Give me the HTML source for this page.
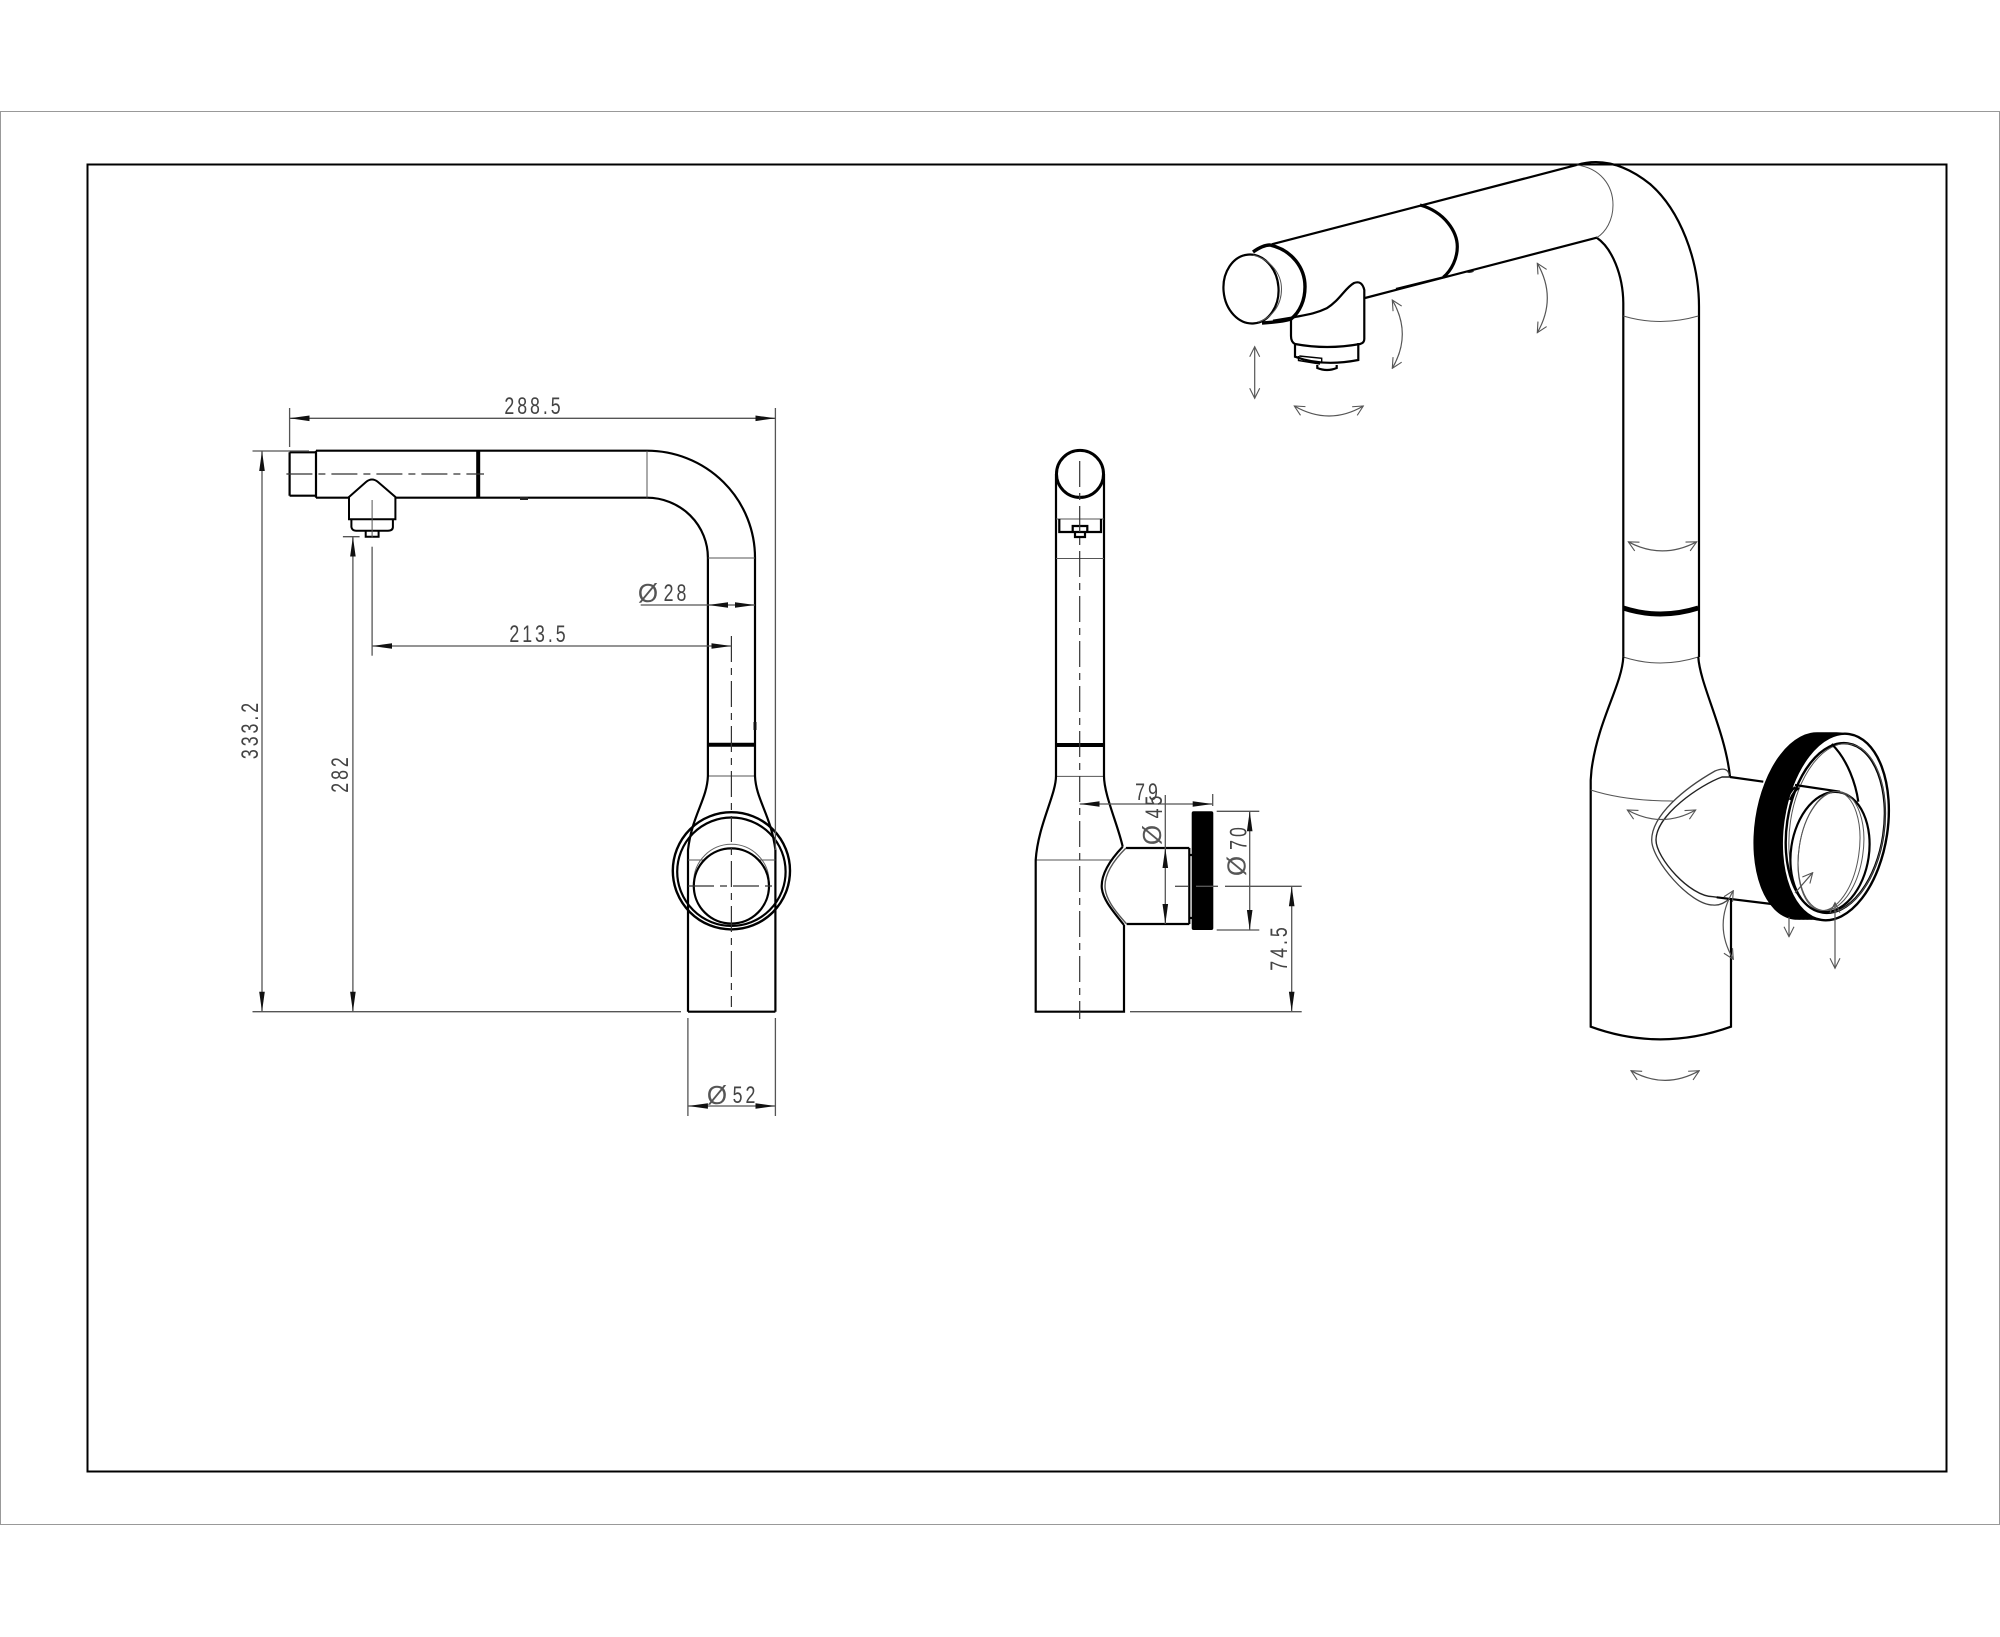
<!DOCTYPE html>
<html><head><meta charset="utf-8"><title>Faucet drawing</title>
<style>
html,body{margin:0;padding:0;background:#fff}
svg{display:block}
text{font-family:"Liberation Sans",sans-serif;font-size:24px;fill:#444;text-anchor:middle;letter-spacing:4px}
text.o{font-size:26px;letter-spacing:0;fill:#555}
.k{fill:none;stroke:#000;stroke-width:2.2}
.K{fill:none;stroke:#000;stroke-width:4}
.t{fill:none;stroke:#555;stroke-width:1}
.d{fill:none;stroke:#555;stroke-width:1.3}
.c{fill:none;stroke:#333;stroke-width:1.2;stroke-dasharray:26 6 7 6}
.a{fill:none;stroke:#555;stroke-width:1.2;marker-start:url(#o);marker-end:url(#o)}
.f{fill:none;stroke:#555;stroke-width:1.3;marker-start:url(#w);marker-end:url(#w)}
</style></head><body>
<svg width="2000" height="1637" viewBox="0 0 2000 1637" xmlns="http://www.w3.org/2000/svg">
<defs>
<marker id="w" viewBox="-20 -3 20 6" refX="0" refY="0" markerWidth="20" markerHeight="6" markerUnits="userSpaceOnUse" orient="auto-start-reverse"><path d="M0 0L-20 -2.8V2.8Z" fill="#111"/></marker>
<marker id="o" viewBox="-11 -6 12 12" refX="0" refY="0" markerWidth="12" markerHeight="12" markerUnits="userSpaceOnUse" orient="auto-start-reverse"><path d="M-10 -5L0 0L-10 5" fill="none" stroke="#555" stroke-width="1.1"/></marker>
</defs>
<rect width="2000" height="1637" fill="#fff"/>
<rect x="0.5" y="111.5" width="1999" height="1413" fill="none" stroke="#999" stroke-width="1"/>
<rect x="87.5" y="164.5" width="1859" height="1307" fill="none" stroke="#000" stroke-width="2"/>

<!-- FRONT VIEW -->
<path class="k" d="M316 450.7H647A108 107 0 0 1 755 558V745M316 497.7H647A61 60 0 0 1 707.9 558V745"/>
<path class="k" d="M316 450.7V497.7M289.6 452.3H316M289.6 495.7H316M289.6 452.3V495.7"/>
<path class="K" d="M478.2 450.7V497.7M707.9 744.7H755"/>
<path class="t" d="M647 450.7V497.7M707.9 558H755M707.9 776H755"/>
<path class="k" d="M707.9 745V776C707 800 692 815 688 850V1011.7M755 745V776C756 800 771 815 775.4 850"/>
<path class="k" d="M775.4 850V1011.7M688 1011.7H775.4"/>
<path d="M349 497L366 482Q372 477 378 482L395.4 497V519.3H349ZM351.4 519.3V527Q352 530.7 356 530.7H388Q392.9 530.7 392.9 527V519.3M365.7 530.7V536.7H378.6V530.7" fill="#fff" stroke="#000" stroke-width="2"/>
<path d="M520 498.5h8" stroke="#222" stroke-width="3"/>
<path d="M755 722v8" stroke="#111" stroke-width="3"/>
<path class="t" d="M688 860H775.4"/>
<circle cx="731.4" cy="870.8" r="58.6" fill="none" stroke="#000" stroke-width="2.4"/>
<circle cx="731.4" cy="871.7" r="54.2" fill="none" stroke="#000" stroke-width="2.2"/>
<circle cx="731.4" cy="882" r="37.7" fill="none" stroke="#666" stroke-width="1"/>
<circle cx="731.4" cy="886" r="37.6" fill="#fff" stroke="#000" stroke-width="2.2"/>
<path class="c" d="M731.4 636V1007"/>
<path class="c" d="M688 886H775"/>
<path class="c" d="M286.4 474H484"/>
<path class="t" d="M372.1 500V538"/>
<!-- dims front -->
<path class="d" d="M289.6 408V447M775.4 408V850"/>
<path class="f" d="M289.6 418.3H775.4"/>
<path class="d" d="M252.5 451H309M252.5 1011.7H681"/>
<path class="f" d="M262 451V1011.7"/>
<path class="d" d="M342.9 536.7H359.6"/>
<path class="f" d="M352.9 536.7V1011.7"/>
<path class="d" d="M372.1 546.7V655.7"/>
<path class="f" d="M372.1 646H731.4"/>
<path class="d" d="M640.7 605H708"/>
<path class="f" d="M708 605H755"/>
<path class="d" d="M687.9 1018V1116M775.4 1018V1116"/>
<path class="f" d="M687.9 1106H775.4"/>
<text transform="translate(534 414) scale(.74 1)">288.5</text>
<text transform="translate(539 642) scale(.74 1)">213.5</text>
<text class="o" x="648" y="602">Ø</text>
<text transform="translate(676.5 601) scale(.74 1)">28</text>
<text class="o" x="717" y="1104">Ø</text>
<text transform="translate(745.5 1103) scale(.74 1)">52</text>
<text transform="translate(258 729.5) rotate(-90) scale(.74 1)">333.2</text>
<text transform="translate(348 773.5) rotate(-90) scale(.74 1)">282</text>

<!-- SIDE VIEW -->
<path class="k" d="M1056 474V745M1104 474V745"/>
<path class="K" d="M1056 745H1104"/>
<circle cx="1080" cy="473.9" r="23.5" fill="#fff" stroke="#000" stroke-width="3"/>
<path class="t" d="M1056 519H1104M1056 558.5H1104M1056 776.4H1104M1035.7 860H1111"/>
<path class="k" d="M1059.3 519V532H1101V519M1072.7 526V532H1087.3V526ZM1075 532V537H1085V532"/>
<path class="k" d="M1056 745V776C1056 795 1038 825 1035.7 860V1011.7H1124V925M1104 745V776C1104 795 1118 825 1122.7 846.7"/>
<path class="k" d="M1122.7 846.7C1110 860 1101.7 873 1101.7 886C1101.7 898 1112 910 1124 925M1126 848H1189.3M1126.7 924H1189.3M1189.3 848V924"/>
<path class="t" d="M1126 848C1114 860 1105 873 1105 886C1105 898 1114 910 1126.7 924" style="stroke-width:1.4"/>
<path class="k" d="M1189.3 855H1192M1189.3 918H1192"/>
<rect x="1191.7" y="811.3" width="21.6" height="118.7" rx="2" fill="#000"/>
<path class="c" d="M1079.7 461V1019"/>
<path class="d" d="M1175 886.3H1188M1196 886.3H1218M1225 886.3H1301.7"/>
<path class="f" d="M1079.7 804H1212.7"/>
<path class="d" d="M1212.7 794V806"/>
<path class="d" d="M1165.3 795V849"/>
<path class="f" d="M1165.3 848V924"/>
<path class="d" d="M1216.7 811.3H1259.3M1216.7 930H1259.3"/>
<path class="f" d="M1249.7 811.3V930"/>
<path class="f" d="M1291.7 886.3V1011.7"/>
<path class="d" d="M1130 1011.7H1301.7"/>
<text transform="translate(1148 800) scale(.74 1)">79</text>
<text class="o" transform="translate(1161 835) rotate(-90)">Ø</text>
<text transform="translate(1162 805.5) rotate(-90) scale(.74 1)">45</text>
<text class="o" transform="translate(1245.7 866) rotate(-90)">Ø</text>
<text transform="translate(1246.7 837) rotate(-90) scale(.74 1)">70</text>
<text transform="translate(1287 947.5) rotate(-90) scale(.74 1)">74.5</text>

<!-- PERSPECTIVE VIEW -->
<path class="k" d="M1271.7 244.3L1576.7 165C1600 158 1625 164 1650 184C1680 210 1699 260 1699 306.7V657"/>
<path class="k" d="M1365 298L1596.7 237.7C1612 248 1623 275 1623.3 303V657"/>
<path class="t" d="M1576.7 165C1600 168 1613 185 1613 205C1613 220 1606 232 1596.7 237.7"/>
<path class="t" d="M1623.3 316Q1660 327 1698.3 316M1623.3 657Q1660 669 1698.3 657"/>
<path d="M1623.3 608Q1660 620 1698.3 608" fill="none" stroke="#000" stroke-width="5"/>
<path class="a" d="M1628.3 541.8Q1662 560 1696.7 541.8"/>
<path d="M1420 205C1445 212 1457.3 232 1457.3 246.7C1457.3 258 1452 270 1443.3 277.3" fill="none" stroke="#000" stroke-width="3.2"/>
<path d="M1443.3 277.3L1396 289" class="k"/>
<path d="M1465 272a5 2 0 0 0 9 -1z" fill="#111"/>
<!-- nozzle -->
<path class="k" d="M1291 318V336Q1291 342 1295 344Q1327 350 1360 344Q1364.3 343 1364.3 339V290Q1362 280 1354 283C1345 288 1340 300 1326.7 308.3C1315 314 1305 315 1293.3 317.3L1273 320.7"/>
<path class="k" d="M1295 344V356.7Q1322 367 1358.3 360V343M1317.3 365V368Q1327 372 1336.7 368V365"/>
<path d="M1299.3 356L1321.7 358.3V362M1298.5 356V360.5L1320 364" fill="none" stroke="#000" stroke-width="1.4"/>
<!-- end cap -->
<path d="M1253 252C1260 247 1265 245 1270 245C1292 250 1305 268 1305 286.7C1305 300 1300 312 1291 319C1285 321 1278 322 1262 323" fill="none" stroke="#000" stroke-width="3.4"/>
<ellipse cx="1251" cy="289" rx="27.5" ry="34.5" transform="rotate(-5 1251 289)" fill="#fff" stroke="#000" stroke-width="2.2"/>
<path class="t" d="M1253 255C1272 260 1281.5 275 1281.5 289C1281.5 305 1272 318 1258 322"/>
<path class="a" d="M1254.7 346.7V398.3"/>
<path class="a" d="M1294.3 406Q1329.3 426 1363.3 406"/>
<path class="a" d="M1392.3 300Q1412.3 334 1392.3 368.3"/>
<path class="a" d="M1537.3 263.3Q1557.3 298 1537.3 332.7"/>
<!-- lower body -->
<path class="k" d="M1623.3 657C1622 685 1598 720 1591.5 770L1590.7 780V1026.7Q1660 1052 1731 1026.7V898M1698.3 657C1700 685 1725 730 1730 776.7"/>
<path class="t" d="M1590.7 790Q1625 801 1673 801"/>
<path d="M1729.3 775C1728 768 1722 768 1715 771C1685 788 1651.7 815 1651.7 840C1651.7 860 1690 905 1713 905Q1722 906 1730 898" fill="none" stroke="#444" stroke-width="1.3"/>
<path d="M1730 777H1722C1700 785 1656 815 1656 840C1656 858 1690 896.7 1713 896.7L1730 899" fill="none" stroke="#222" stroke-width="1.4"/>
<path class="k" d="M1730 777L1763.3 781.7M1716.7 897.3L1771.7 904"/>
<path class="a" d="M1627.3 810Q1661.7 829 1695.7 810"/>
<path class="a" d="M1631 1070.7Q1665 1090 1699.3 1070.7"/>
<path class="a" d="M1733.3 890.7Q1713 925 1733.3 959.3"/>
<!-- ring -->
<g fill="#000">
<ellipse cx="1807" cy="826" rx="52.3" ry="94.5" transform="rotate(8.5 1807 826)"/>
<ellipse cx="1811" cy="826" rx="52.3" ry="94.5" transform="rotate(8.5 1811 826)"/>
<ellipse cx="1815" cy="826" rx="52.3" ry="94.5" transform="rotate(8.5 1815 826)"/>
<ellipse cx="1819" cy="826" rx="52.3" ry="94.5" transform="rotate(8.5 1819 826)"/>
<ellipse cx="1823" cy="826" rx="52.3" ry="94.5" transform="rotate(8.5 1823 826)"/>
<ellipse cx="1827" cy="826" rx="52.3" ry="94.5" transform="rotate(8.5 1827 826)"/>
<ellipse cx="1831" cy="827" rx="52.3" ry="94.5" transform="rotate(8.5 1831 827)"/>
</g>
<ellipse cx="1835.3" cy="827" rx="52.3" ry="94" transform="rotate(8.5 1835.3 827)" fill="#fff" stroke="#000" stroke-width="2.4"/>
<ellipse cx="1835.3" cy="828" rx="48.5" ry="85.5" transform="rotate(8.5 1835.3 828)" fill="#fff" stroke="#000" stroke-width="2.4"/>
<ellipse cx="1837" cy="828" rx="47" ry="85" transform="rotate(8.5 1837 828)" fill="none" stroke="#555" stroke-width="1"/>
<path class="k" d="M1831.7 744C1848 760 1856 785 1858.3 801.7"/>
<path class="k" d="M1795 785L1840 791.7"/>
<path class="k" d="M1795 787C1792 790 1789 794 1787 799M1799 788C1795 790 1792 795 1790 800"/>
<ellipse cx="1830" cy="852" rx="39" ry="60.5" transform="rotate(8.5 1830 852)" fill="#fff" stroke="#000" stroke-width="2.2"/>
<ellipse cx="1831" cy="851" rx="32" ry="60" transform="rotate(8.5 1831 851)" fill="none" stroke="#555" stroke-width="1"/>
<ellipse cx="1829" cy="851" rx="30" ry="60" transform="rotate(8.5 1829 851)" fill="none" stroke="#555" stroke-width="1"/>
<path class="a" d="M1795 893L1812.7 872.7" style="marker-start:none"/>
<path class="a" d="M1789 917V936.7" style="marker-start:none"/>
<path class="a" d="M1835 902.7V968.3"/>
</svg>
</body></html>
